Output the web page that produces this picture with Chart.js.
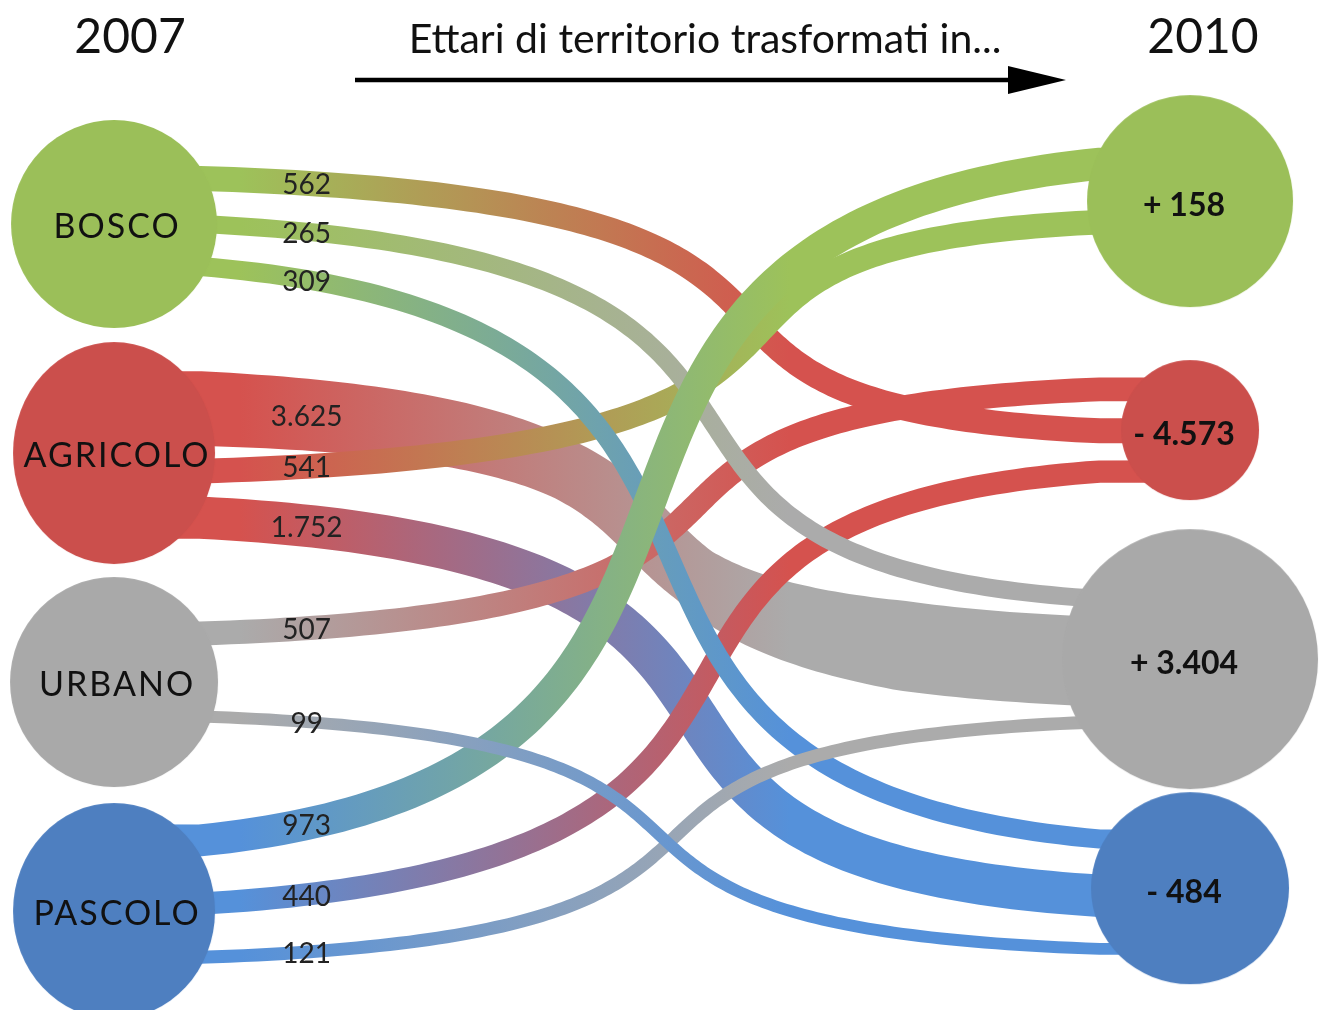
<!DOCTYPE html>
<html>
<head>
<meta charset="utf-8">
<script src="https://cdn.jsdelivr.net/npm/chart.js@4.4.0/dist/chart.umd.min.js"></script>
<style>
	html, body { margin: 0; padding: 0; background: #fff; }
	#wrap { width: 1327px; height: 1010px; }
</style>
</head>
<body>
<div id="wrap"><canvas id="flows"></canvas></div>
<script>
// data
const categories = ["BOSCO", "AGRICOLO", "URBANO", "PASCOLO"];
const years = ["2007", "2010"];
const subtitle = "Ettari di territorio trasformati in...";
const netChange = [158, -4573, 3404, -484];
const flowFrom = [0, 0, 0, 1, 1, 1, 2, 2, 3, 3, 3];
const flowTo = [1, 2, 3, 2, 0, 3, 1, 3, 0, 1, 2];
const flowValues = [562, 265, 309, 3625, 541, 1752, 507, 99, 973, 440, 121];

// layout and style
const nodeColors = ["#9BBF59", "#CB4F4C", "#A9A9A9", "#4E7FC0"];
const ribbonColors = ["#9DC25A", "#D5524E", "#ABABAB", "#5591DA"];
const leftRadii = [[103, 104], [101, 111], [104, 105], [101, 108]];
const rightRadii = [[103, 106], [69, 70], [128, 130], [99, 96]];
const rightShiftY = -0.1;
const leftGap = [24, 13, 65, 36];
const leftShift = [-3, 2, -10, -17];
const rightGap = [30, 17, 9, 26];
const rightShift = [-10, 0, 0, 4];
const rightOrder = [[8, 4], [6, 0, 9], [1, 3, 10], [2, 5, 7]];
const zOrder = [3, 5, 0, 4, 6, 9, 2, 1, 8, 10, 7];
const flowBend = [85, 55, 18, 0, 95, 40, 40, 7, 0, 50, 22];
const flareStart = { 3: 1.25 };
const flareEnd = { 3: 1.5 };
const curveFrom = 0.08, curveTo = 0.916;
const gradientFrom = 0.117, gradientTo = 0.628;
const labelAt = 0.179;

function ribbonWidth(v) {
	return 2.5 + 0.95 * Math.sqrt(v);
}

function fmt(v) {
	return String(Math.abs(v)).replace(/\B(?=(\d{3})+(?!\d))/g, ".");
}

function netLabel(v) {
	return (v > 0 ? "+ " : "- ") + fmt(v);
}

function ellipseImage(rx, ry, color) {
	const c = document.createElement("canvas");
	c.width = Math.ceil(rx * 2) + 2;
	c.height = Math.ceil(ry * 2) + 2;
	const g = c.getContext("2d");
	g.fillStyle = color;
	g.beginPath();
	g.ellipse(c.width / 2, c.height / 2, rx, ry, 0, 0, Math.PI * 2);
	g.fill();
	return c;
}

function stack(list, center, gap, widthOf, assign) {
	const total = list.reduce((s, i) => s + widthOf(i), 0) + gap * (list.length - 1);
	let top = center - total / 2;
	list.forEach((i) => {
		const w = widthOf(i);
		assign(i, top + w / 2);
		top += w + gap;
	});
}

const C = 0.75, E = 0.1;

function flowGeometry(chart) {
	const { x, y } = chart.scales;
	const geo = flowValues.map((v, i) => {
		const x0 = x.getPixelForValue(curveFrom), x1 = x.getPixelForValue(curveTo);
		const d = flowBend[i] / (0.75 * (x1 - x0));
		return {
			w: ribbonWidth(v),
			fs: flareStart[i] || 1,
			fe: flareEnd[i] || 1,
			xL: x.getPixelForValue(0),
			x0: x0,
			x1: x1,
			xR: x.getPixelForValue(1),
			c1: C + d,
			c2: C - d,
		};
	});
	categories.forEach((c, n) => {
		const outs = flowValues.map((v, i) => i).filter((i) => flowFrom[i] === n);
		stack(outs, y.getPixelForValue(n) + leftShift[n], leftGap[n],
			(i) => geo[i].w * geo[i].fs, (i, pos) => (geo[i].y0 = pos));
		stack(rightOrder[n], y.getPixelForValue(n + rightShiftY) + rightShift[n], rightGap[n],
			(i) => geo[i].w * geo[i].fe, (i, pos) => (geo[i].y1 = pos));
	});
	return geo;
}

function bezier(g, t) {
	const s = 1 - t, D = g.x1 - g.x0, H = g.y1 - g.y0;
	const cx1 = g.x0 + g.c1 * D, cx2 = g.x1 - g.c2 * D;
	const cy1 = g.y0 + E * H, cy2 = g.y1 - E * H;
	return {
		x: s * s * s * g.x0 + 3 * s * s * t * cx1 + 3 * s * t * t * cx2 + t * t * t * g.x1,
		y: s * s * s * g.y0 + 3 * s * s * t * cy1 + 3 * s * t * t * cy2 + t * t * t * g.y1,
		dx: 3 * s * s * (cx1 - g.x0) + 6 * s * t * (cx2 - cx1) + 3 * t * t * (g.x1 - cx2),
		dy: 3 * s * s * (cy1 - g.y0) + 6 * s * t * (cy2 - cy1) + 3 * t * t * (g.y1 - cy2),
	};
}

function clamp01(v) {
	return Math.max(0, Math.min(1, v));
}

function widthAt(g, t) {
	return g.w * (1 + (g.fs - 1) * clamp01(1 - t / 0.3) + (g.fe - 1) * clamp01((t - 0.62) / 0.26));
}

function ribbonOutline(g) {
	const N = 140;
	const pts = [{ x: g.xL, y: g.y0, nx: 0, ny: -1, w: g.w * g.fs }];
	for (let k = 0; k <= N; k++) {
		const t = k / N;
		const b = bezier(g, t);
		const len = Math.hypot(b.dx, b.dy) || 1;
		pts.push({ x: b.x, y: b.y, nx: b.dy / len, ny: -b.dx / len, w: widthAt(g, t) });
	}
	pts.push({ x: g.xR, y: g.y1, nx: 0, ny: -1, w: g.w * g.fe });
	const upper = pts.map((p) => [p.x + (p.nx * p.w) / 2, p.y + (p.ny * p.w) / 2]);
	const lower = pts.map((p) => [p.x - (p.nx * p.w) / 2, p.y - (p.ny * p.w) / 2]).reverse();
	return upper.concat(lower);
}

function yOnRibbon(g, px) {
	let lo = 0, hi = 1;
	for (let k = 0; k < 40; k++) {
		const mid = (lo + hi) / 2;
		if (bezier(g, mid).x < px) lo = mid;
		else hi = mid;
	}
	return bezier(g, lo).y;
}

const ribbonPlugin = {
	id: "ribbons",
	beforeDatasetsDraw(chart) {
		const { ctx } = chart;
		const x = chart.scales.x;
		const geo = flowGeometry(chart);
		const gx0 = x.getPixelForValue(gradientFrom);
		const gx1 = x.getPixelForValue(gradientTo);
		ctx.save();
		zOrder.forEach((i) => {
			const grad = ctx.createLinearGradient(gx0, 0, gx1, 0);
			grad.addColorStop(0, ribbonColors[flowFrom[i]]);
			grad.addColorStop(1, ribbonColors[flowTo[i]]);
			ctx.fillStyle = grad;
			const pts = ribbonOutline(geo[i]);
			ctx.beginPath();
			pts.forEach((p, k) => (k ? ctx.lineTo(p[0], p[1]) : ctx.moveTo(p[0], p[1])));
			ctx.closePath();
			ctx.fill();
		});
		ctx.restore();
	},
};

const labelPlugin = {
	id: "labels",
	afterDatasetsDraw(chart) {
		const { ctx } = chart;
		const { x, y } = chart.scales;
		const geo = flowGeometry(chart);
		ctx.save();
		ctx.fillStyle = "#111";
		ctx.textAlign = "center";
		ctx.textBaseline = "middle";

		ctx.font = "48px Lato";
		ctx.fillText(years[0], x.getPixelForValue(0) + 16, 38);
		ctx.fillText(years[1], x.getPixelForValue(1) + 13, 38);
		ctx.font = "41px Lato";
		ctx.fillText(subtitle, 705, 40);

		// arrow
		ctx.strokeStyle = "#000";
		ctx.lineWidth = 4.5;
		ctx.beginPath();
		ctx.moveTo(355, 80);
		ctx.lineTo(1012, 80);
		ctx.stroke();
		ctx.fillStyle = "#000";
		ctx.beginPath();
		ctx.moveTo(1008, 66);
		ctx.lineTo(1066, 80);
		ctx.lineTo(1008, 94);
		ctx.closePath();
		ctx.fill();

		ctx.fillStyle = "#111";
		ctx.font = "34px Lato";
		ctx.letterSpacing = "2px";
		categories.forEach((c, n) => {
			ctx.fillText(c, x.getPixelForValue(0) + 3, y.getPixelForValue(n) + 3);
		});
		ctx.letterSpacing = "0px";

		ctx.font = "bold 32px Lato";
		netChange.forEach((v, n) => {
			ctx.fillText(netLabel(v), x.getPixelForValue(1) - 6, y.getPixelForValue(n + rightShiftY) + 5);
		});

		ctx.fillStyle = "#222";
		ctx.font = "28px Lato";
		const lx = x.getPixelForValue(labelAt);
		flowValues.forEach((v, i) => {
			ctx.fillText(fmt(v), lx, yOnRibbon(geo[i], lx) + 2);
		});
		ctx.restore();
	},
};

async function renderFlowChart() {
	await document.fonts.load("28px Lato");
	await document.fonts.load("bold 32px Lato");
	const leftImages = categories.map((c, i) => ellipseImage(leftRadii[i][0], leftRadii[i][1], nodeColors[i]));
	const rightImages = categories.map((c, i) => ellipseImage(rightRadii[i][0], rightRadii[i][1], nodeColors[i]));

	const canvas = document.getElementById("flows");
	return new Chart(canvas, {
		type: "scatter",
		data: {
			datasets: [
				{
					label: years[0],
					data: categories.map((c, i) => ({ x: 0, y: i })),
					pointStyle: (ctx) => leftImages[ctx.dataIndex],
					pointRadius: 10,
					clip: false,
				},
				{
					label: years[1],
					data: categories.map((c, i) => ({ x: 1, y: i + rightShiftY })),
					pointStyle: (ctx) => rightImages[ctx.dataIndex],
					pointRadius: 10,
					clip: false,
				},
			],
		},
		options: {
			responsive: true,
			maintainAspectRatio: false,
			animation: false,
			events: [],
			layout: { padding: 0, autoPadding: false },
			scales: {
				x: { type: "linear", min: -0.106, max: 1.1273, display: false },
				y: { type: "linear", min: -0.978, max: 3.432, reverse: true, display: false },
			},
			plugins: {
				legend: { display: false },
				tooltip: { enabled: false },
			},
		},
		plugins: [ribbonPlugin, labelPlugin],
	});
}

renderFlowChart();
</script>
</body>
</html>
